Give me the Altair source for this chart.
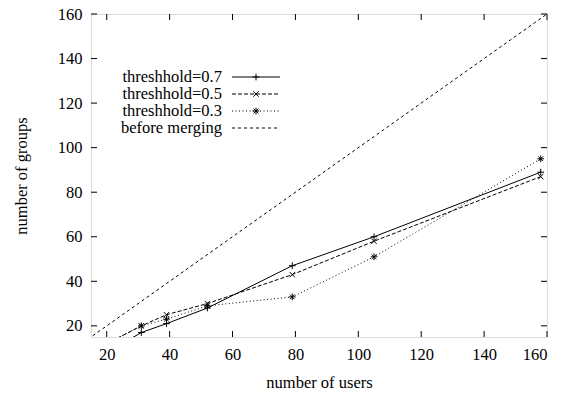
import altair as alt
import pandas as pd

users = [20, 31, 39, 52, 79, 105, 158]
t07 = [8, 17, 21, 28, 47, 60, 89]
t05 = [12, 20, 25, 30, 43, 58, 87]
t03 = [12, 20, 23, 29, 33, 51, 95]
before_x = [0, 160]
before_y = [0, 160]
x_ticks = [20, 40, 60, 80, 100, 120, 140, 160]
y_ticks = [20, 40, 60, 80, 100, 120, 140, 160]
legend_labels = ["threshhold=0.7", "threshhold=0.5", "threshhold=0.3", "before merging"]

W, H = 456, 323
FONT = "Times New Roman"
FS = 16.5

PLUS = "M-1,0L1,0M0,-1L0,1"
CROSS = "M-0.8,-0.8L0.8,0.8M-0.8,0.8L0.8,-0.8"
STAR = "M-1,0L1,0M0,-1L0,1M-0.7,-0.7L0.7,0.7M-0.7,0.7L0.7,-0.7"

xs = alt.Scale(domain=[15, 160], nice=False, zero=False)
ys = alt.Scale(domain=[15, 160], nice=False, zero=False)

xax = alt.Axis(values=x_ticks, ticks=False, domain=False, grid=False, labelFont=FONT,
               labelFontSize=FS, labelColor="black", labelPadding=9, title="number of users",
               titleFont=FONT, titleFontSize=FS, titleFontWeight="normal", titleColor="black",
               titlePadding=12)
yax = alt.Axis(values=y_ticks, ticks=False, domain=False, grid=False, labelFont=FONT,
               labelFontSize=FS, labelColor="black", labelPadding=9, title="number of groups",
               titleFont=FONT, titleFontSize=FS, titleFontWeight="normal", titleColor="black",
               titlePadding=28)

series = [
    (t07, None, PLUS),
    (t05, [4, 2], CROSS),
    (t03, [1, 2.5], STAR),
]

layers = []
bdf = pd.DataFrame({"x": before_x, "y": before_y})
layers.append(alt.Chart(bdf).mark_line(color="black", strokeWidth=1, strokeDash=[3, 3], clip=True)
              .encode(x=alt.X("x:Q", scale=xs, axis=xax), y=alt.Y("y:Q", scale=ys, axis=yax)))

for vals, dash, shape in series:
    df = pd.DataFrame({"x": users, "y": vals})
    lk = dict(color="black", strokeWidth=1, clip=True)
    if dash:
        lk["strokeDash"] = dash
    layers.append(alt.Chart(df).mark_line(**lk).encode(
        x=alt.X("x:Q", scale=xs), y=alt.Y("y:Q", scale=ys)))
    layers.append(alt.Chart(df).mark_point(shape=shape, size=45, filled=False, color="black",
                                           strokeWidth=1, opacity=1, clip=True).encode(
        x=alt.X("x:Q", scale=xs), y=alt.Y("y:Q", scale=ys)))

# inward ticks on all four sides
xt = pd.DataFrame({"v": x_ticks})
yt = pd.DataFrame({"v": y_ticks})
tick_style = dict(color="black", strokeWidth=1)
layers.append(alt.Chart(xt).mark_rule(**tick_style).encode(
    x=alt.X("v:Q", scale=xs), y=alt.value(H), y2=alt.value(H - 6)))
layers.append(alt.Chart(xt).mark_rule(**tick_style).encode(
    x=alt.X("v:Q", scale=xs), y=alt.value(0), y2=alt.value(6)))
layers.append(alt.Chart(yt).mark_rule(**tick_style).encode(
    y=alt.Y("v:Q", scale=ys), x=alt.value(0), x2=alt.value(6)))
layers.append(alt.Chart(yt).mark_rule(**tick_style).encode(
    y=alt.Y("v:Q", scale=ys), x=alt.value(W), x2=alt.value(W - 6)))

# legend (gnuplot style: text then sample)
row_y = [63, 80, 97, 114]
dashes = [None, [4, 2], [1, 2.5], [3, 3]]
shapes = [PLUS, CROSS, STAR, None]
one = pd.DataFrame({"a": [0]})
for lab, ry, dsh, shp in zip(legend_labels, row_y, dashes, shapes):
    layers.append(alt.Chart(one).mark_text(align="right", baseline="middle", font=FONT,
                                           fontSize=FS, color="black", text=lab).encode(
        x=alt.value(131), y=alt.value(ry)))
    rk = dict(color="black", strokeWidth=1)
    if dsh:
        rk["strokeDash"] = dsh
    layers.append(alt.Chart(one).mark_rule(**rk).encode(
        x=alt.value(141), x2=alt.value(189), y=alt.value(ry)))
    if shp:
        layers.append(alt.Chart(one).mark_point(shape=shp, size=45, filled=False, color="black",
                                                strokeWidth=1, opacity=1).encode(
            x=alt.value(165), y=alt.value(ry)))

chart = alt.layer(*layers).properties(
    width=W, height=H,
    autosize=alt.AutoSizeParams(type="none"),
    padding={"left": 83, "top": 6, "right": 24, "bottom": 57},
).configure_view(stroke="black", strokeWidth=1).configure(background="white")

chart.save("out.html", embed_options={"renderer": "svg", "actions": False})
